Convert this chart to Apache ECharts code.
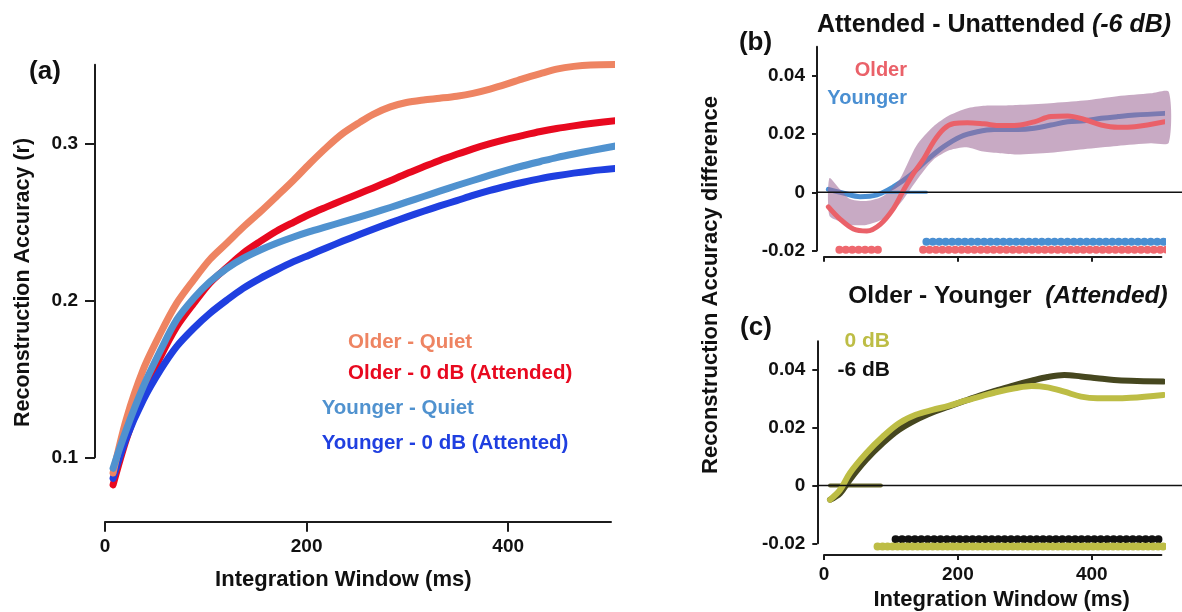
<!DOCTYPE html>
<html><head><meta charset="utf-8">
<script src="https://cdn.jsdelivr.net/npm/echarts@6/dist/echarts.min.js"></script>
<style>html,body{margin:0;padding:0;background:#fff}#c{width:1182px;height:612px}</style>
</head><body><div id="c"></div>
<script>
// ---------- Panel (a) ----------
const xA = [8, 21, 38, 55, 71, 88, 104, 121, 137, 154, 170, 187, 203, 220, 236, 253, 266, 283, 299, 316, 332, 349, 365, 382, 399, 415, 432, 448, 465, 482, 511];
const olderQuiet = [0.090, 0.124, 0.156, 0.179, 0.198, 0.213, 0.226, 0.2365, 0.2465, 0.2563, 0.266, 0.2765, 0.287, 0.2975, 0.3063, 0.3135, 0.3185, 0.3232, 0.3260, 0.3276, 0.3287, 0.3300, 0.3318, 0.3345, 0.3378, 0.3412, 0.3444, 0.3472, 0.3490, 0.3499, 0.3502];
const older0dB = [0.0824, 0.111, 0.141, 0.164, 0.183, 0.198, 0.211, 0.221, 0.230, 0.2375, 0.2440, 0.2497, 0.2548, 0.2595, 0.2638, 0.2682, 0.2716, 0.2762, 0.2806, 0.2850, 0.2891, 0.2930, 0.2965, 0.2998, 0.3027, 0.3051, 0.3075, 0.3094, 0.3111, 0.3126, 0.3148];
const youngerQuiet = [0.093, 0.1174, 0.145, 0.168, 0.1875, 0.2013, 0.2118, 0.2204, 0.2267, 0.232, 0.2363, 0.2403, 0.2437, 0.2469, 0.2500, 0.2532, 0.2557, 0.2591, 0.2625, 0.2661, 0.2695, 0.2731, 0.2763, 0.2797, 0.2829, 0.2857, 0.2884, 0.2909, 0.2932, 0.2953, 0.2988];
const younger0dB = [0.0866, 0.112, 0.1365, 0.1556, 0.1705, 0.1822, 0.1917, 0.2002, 0.2076, 0.214, 0.2193, 0.2246, 0.2289, 0.2335, 0.2377, 0.2420, 0.2452, 0.2493, 0.2530, 0.2567, 0.2601, 0.2635, 0.2668, 0.2700, 0.2728, 0.2752, 0.2775, 0.2793, 0.2810, 0.2824, 0.2842];
const ticksA_x = [0, 200, 400];
const ticksA_y = [0.1, 0.2, 0.3];

// ---------- Panel (b) ----------
const xB_older = [6.5, 24, 44, 64, 84, 104, 119, 134, 149, 164, 179, 194, 214, 239, 264, 289, 314, 339, 364, 389, 414, 439, 464, 509];
const olderDiffB = [-0.0050, -0.0092, -0.0126, -0.0133, -0.0110, -0.0055, 0.0008, 0.0066, 0.0115, 0.0175, 0.0218, 0.0236, 0.0239, 0.0235, 0.0229, 0.0230, 0.0242, 0.0260, 0.0262, 0.0250, 0.0231, 0.0223, 0.0225, 0.0242];
const xB_younger = [6.5, 29, 54, 79, 104, 129, 154, 179, 204, 229, 254, 289, 314, 339, 364, 389, 414, 439, 464, 509];
const youngerDiffB = [0.0010, -0.0003, -0.0015, -0.0009, 0.0019, 0.0059, 0.0111, 0.0157, 0.0191, 0.0208, 0.0216, 0.0216, 0.0220, 0.0231, 0.0242, 0.0246, 0.0254, 0.0260, 0.0265, 0.0271];
const bandX = [8, 23, 38, 63, 88, 113, 138, 163, 188, 213, 238, 263, 288, 338, 388, 438, 488, 515];
const bandLo = [-0.0080, -0.0100, -0.0112, -0.0112, -0.0092, -0.0040, 0.0040, 0.0111, 0.0145, 0.0155, 0.0140, 0.0134, 0.0130, 0.0136, 0.0148, 0.0159, 0.0168, 0.0170];
const bandHi = [0.0048, 0.0012, -0.0022, -0.0030, -0.0014, 0.0045, 0.0160, 0.0225, 0.0265, 0.0288, 0.0297, 0.0298, 0.0300, 0.0306, 0.0315, 0.0330, 0.0340, 0.0345];
const sigOlderB = [[23, 86], [148, 518]];
const sigYoungerB = [[153, 510]];
const nsYoungerB = [[90, 153]];
const ticksBC_x = [0, 200, 400];
const ticksBC_y = [-0.02, 0, 0.02, 0.04];

// ---------- Panel (c) ----------
const xC = [9, 24, 38.5, 63, 88, 112, 137, 162, 186, 211, 236, 260, 285, 310, 334, 359, 384, 408, 433, 458, 507];
const diff0dB = [-0.0049, -0.0015, 0.0043, 0.0112, 0.0170, 0.0216, 0.0245, 0.0262, 0.0276, 0.0294, 0.0310, 0.0325, 0.0337, 0.0345, 0.0340, 0.0325, 0.0308, 0.0302, 0.0302, 0.0304, 0.0314];
const diffM6dB = [-0.0049, -0.0027, 0.0020, 0.0089, 0.0147, 0.0193, 0.0227, 0.0253, 0.0273, 0.0294, 0.0314, 0.0331, 0.0348, 0.0363, 0.0376, 0.0383, 0.0378, 0.0372, 0.0366, 0.0363, 0.0360];
const sig0dBC = [[80, 509]];
const sigM6dBC = [[107, 509]];
const nsC = [[9, 85]];

// ---------- styles ----------
const C = {
  salmon: '#EE8462', red: '#E8091F', lblue: '#5092CF', dblue: '#1F3FE0',
  bRed: '#EA6169', bBlue: '#4A8FD2', band: 'rgba(158,106,151,0.57)',
  yel: '#BDBD45', olive: '#46471F', axis: '#1c1c1c'
};
const FF = 'Liberation Sans';
const pairs = (xs, ys) => xs.map((x, i) => [x, ys[i]]);

function lineS(g, xs, ys, color, width, smooth, z) {
  return { type: 'line', xAxisIndex: g, yAxisIndex: g, data: pairs(xs, ys), symbol: 'none',
    smooth: smooth, clip: false, silent: true, z: z || 2,
    lineStyle: { color: color, width: width, cap: 'round', join: 'round' } };
}
function rowS(g, intervals, y, color, width, dash, z) {
  return intervals.map(iv => ({ type: 'line', xAxisIndex: g, yAxisIndex: g,
    data: [[iv[0], y], [iv[1], y]], symbol: 'none', clip: false, silent: true, z: z || 4,
    lineStyle: { color: color, width: width, type: dash, cap: 'round' } }));
}

function xAx(g, min, max, offset, tickLen, showLabels, margin, fs) {
  return { type: 'value', gridIndex: g, min: min, max: max, offset: offset,
    axisLine: { show: true, onZero: false, lineStyle: { color: C.axis, width: 2 } },
    axisTick: { show: true, length: tickLen, customValues: ticksA_x, lineStyle: { color: C.axis, width: 2 } },
    axisLabel: { show: showLabels, customValues: ticksA_x, margin: margin, fontSize: fs, fontFamily: FF, fontWeight: 'bold', color: '#111' },
    splitLine: { show: false } };
}
function yAx(g, min, max, offset, tickLen, ticks, margin, fs) {
  return { type: 'value', gridIndex: g, min: min, max: max, offset: offset,
    axisLine: { show: true, onZero: false, lineStyle: { color: C.axis, width: 2 } },
    axisTick: { show: true, length: tickLen, customValues: ticks, lineStyle: { color: C.axis, width: 2 } },
    axisLabel: { show: true, customValues: ticks, margin: margin, fontSize: fs, fontFamily: FF, fontWeight: 'bold', color: '#111' },
    splitLine: { show: false } };
}

function txt(id, text, x, y, size, color, align, rot, extra) {
  const st = { text: text, fontSize: size, fontFamily: FF, fontWeight: 'bold', fill: color,
    align: align, textAlign: align, verticalAlign: 'middle', textVerticalAlign: 'middle' };
  if (extra) Object.assign(st, extra);
  return { type: 'text', id: id, x: x, y: y, rotation: rot || 0, z: 100, silent: true, style: st };
}
function richTitle(size) {
  return { rich: {
    n: { font: 'bold ' + size + 'px "Liberation Sans"', fontSize: size, fontFamily: FF, fontWeight: 'bold', fill: '#111' },
    i: { font: 'italic bold ' + size + 'px "Liberation Sans"', fontSize: size, fontFamily: FF, fontWeight: 'bold', fontStyle: 'italic', fill: '#111' }
  } };
}

const chart = echarts.init(document.getElementById('c'), null, { renderer: 'canvas' });

const bandSeries = {
  type: 'custom', xAxisIndex: 1, yAxisIndex: 1, silent: true, clip: false, z: 3,
  data: bandX.map((x, i) => [x, bandLo[i], bandHi[i]]),
  encode: { x: 0, y: [1, 2] },
  renderItem: function (params, api) {
    if (params.dataIndex !== 0) return null;
    const up = bandX.map((x, i) => api.coord([x, bandHi[i]]));
    const lo = bandX.map((x, i) => api.coord([x, bandLo[i]])).reverse();
    return { type: 'polygon', shape: { points: up.concat(lo), smooth: 0.25 },
      style: { fill: C.band, stroke: null } };
  }
};

const option = {
  animation: false,
  backgroundColor: '#fff',
  grid: [
    { left: 105, top: 64.8, width: 506, height: 392.5 },
    { left: 824, top: 46.7, width: 337.4, height: 203.8 },
    { left: 824, top: 341.2, width: 337.4, height: 202.1 }
  ],
  xAxis: [
    xAx(0, 0, 502, 64.4, 10, true, 16, 19),
    xAx(1, 0, 504, 6.2, 5, false, 10, 19),
    xAx(2, 0, 504, 11.7, 5, true, 10, 19)
  ],
  yAxis: [
    yAx(0, 0.1, 0.35, 10, 10, ticksA_y, 17, 19),
    yAx(1, -0.02, 0.05, 7, 5, ticksBC_y, 12, 19),
    yAx(2, -0.02, 0.05, 6.7, 5, ticksBC_y, 12, 19)
  ],
  series: [
    lineS(0, xA, older0dB, C.red, 7, 0.3),
    lineS(0, xA, younger0dB, C.dblue, 7, 0.3),
    lineS(0, xA, olderQuiet, C.salmon, 7, 0.3),
    lineS(0, xA, youngerQuiet, C.lblue, 7, 0.3),
    lineS(1, xB_younger, youngerDiffB, C.bBlue, 5, 0.35, 2),
    bandSeries,
    ...rowS(1, nsYoungerB, 0, C.bBlue, 3, 'solid', 4),
    lineS(1, xB_older, olderDiffB, C.bRed, 5, 0.35, 5),
    ...rowS(1, sigYoungerB, -0.0170, C.bBlue, 8, [0.01, 6.4], 5),
    ...rowS(1, sigOlderB, -0.0197, '#EE686E', 8, [0.01, 6.4], 6),
    ...rowS(2, nsC, 0, '#6b6b30', 4, 'solid', 3),
    lineS(2, xC, diffM6dB, C.olive, 6, 0.35, 4),
    lineS(2, xC, diff0dB, C.yel, 6, 0.35, 5),
    ...rowS(2, sigM6dBC, -0.0186, '#111', 8, [0.01, 6.4], 5),
    ...rowS(2, sig0dBC, -0.0211, C.yel, 8, [0.01, 5], 6)
  ],
  graphic: { elements: [
    txt('la', '(a)', 45, 72, 26, '#111', 'center'),
    txt('ya', 'Reconstruction Accuracy (r)', 23, 282.5, 21.5, '#111', 'center', Math.PI / 2),
    txt('xa', 'Integration Window (ms)', 343.3, 580, 22, '#111', 'center'),
    txt('l1', 'Older - Quiet', 348, 342.7, 20.5, C.salmon, 'left'),
    txt('l2', 'Older - 0 dB (Attended)', 348, 373, 20.5, C.red, 'left'),
    txt('l3', 'Younger - Quiet', 321.7, 408, 20.5, C.lblue, 'left'),
    txt('l4', 'Younger - 0 dB (Attented)', 321.7, 443, 20.5, C.dblue, 'left'),
    txt('lb', '(b)', 755.5, 43, 26, '#111', 'center'),
    txt('tb', '{n|Attended - Unattended }{i|(-6 dB)}', 994, 25, 25, '#111', 'center', 0, richTitle(25)),
    txt('lbo', 'Older', 907, 70, 20, C.bRed, 'right'),
    txt('lby', 'Younger', 907, 98.3, 20, C.bBlue, 'right'),
    txt('yb', 'Reconstruction Accuracy difference', 711, 285, 22, '#111', 'center', Math.PI / 2),
    txt('lc', '(c)', 756, 328, 26, '#111', 'center'),
    txt('tc', '{n|Older - Younger  }{i|(Attended)}', 1008, 296.7, 24.5, '#111', 'center', 0, richTitle(24.5)),
    txt('lc0', '0 dB', 890, 341.7, 21, C.yel, 'right'),
    txt('lc6', '-6 dB', 890, 370, 21, '#111', 'right'),
    txt('xc', 'Integration Window (ms)', 1001.7, 600, 22, '#111', 'center')
  ] }
};
chart.setOption(option);

// zero reference lines in (b) and (c), placed through the axes' own scales
const zb = chart.convertToPixel({ gridIndex: 1 }, [0, 0]);
const zc = chart.convertToPixel({ gridIndex: 2 }, [0, 0]);
chart.setOption({ graphic: { elements: [
  { type: 'line', id: 'z1', z: 90, silent: true, shape: { x1: zb[0] - 7, y1: zb[1], x2: 1182, y2: zb[1] }, style: { stroke: '#111', lineWidth: 1.6 } },
  { type: 'line', id: 'z2', z: 90, silent: true, shape: { x1: zc[0] - 6.7, y1: zc[1], x2: 1182, y2: zc[1] }, style: { stroke: '#111', lineWidth: 1.6 } }
] } });
</script></body></html>
